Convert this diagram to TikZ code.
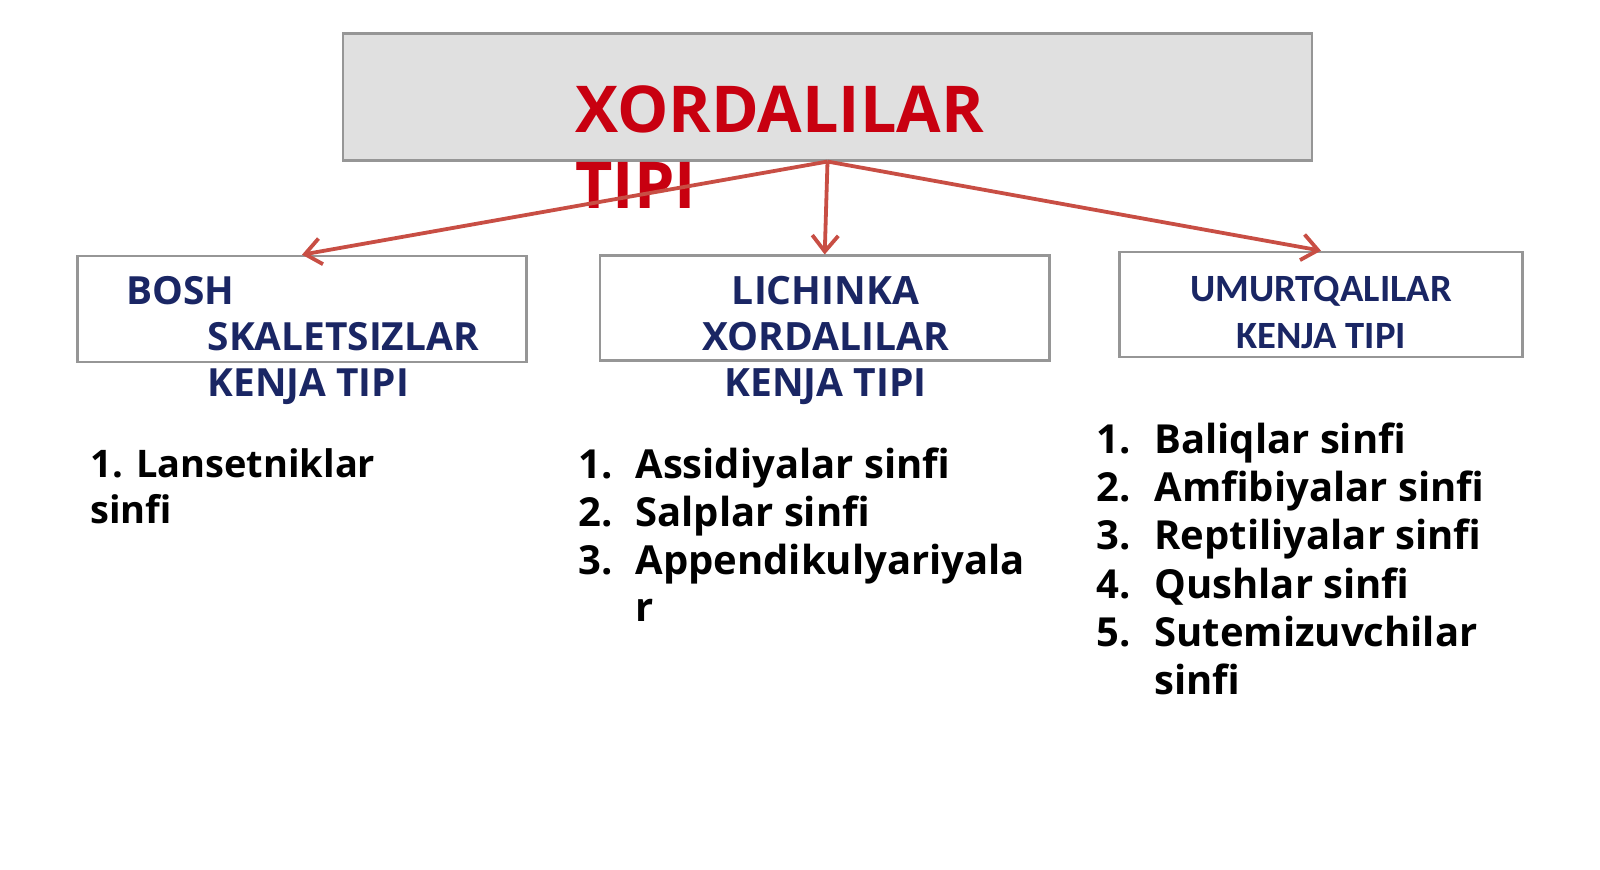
\documentclass[tikz,border=0pt]{standalone}
\usepackage{fontspec}
\setmainfont{Open Sans}
\newfontfamily\carl{Carlito}
\usetikzlibrary{arrows.meta}
\definecolor{topgray}{RGB}{224,224,224}
\definecolor{boxgray}{RGB}{150,150,150}
\definecolor{navy}{RGB}{26,38,100}
\definecolor{titlered}{RGB}{200,0,16}
\definecolor{arrred}{RGB}{200,78,68}
\begin{document}
\begin{tikzpicture}[x=0.5pt,y=-0.5pt]
\tikzset{
  box/.style={draw=boxgray, line width=1.3pt, inner sep=0pt},
  titletext/.style={text=titlered, font=\fontsize{32.3}{40}\selectfont\bfseries, inner sep=0pt, anchor=base west},
  hdr/.style={text=navy, font=\fontsize{19.4}{23}\selectfont\bfseries, inner sep=0pt, anchor=base west},
  hdrc/.style={text=navy, font=\fontsize{19.5}{23}\selectfont\bfseries, inner sep=0pt, anchor=base},
  hdrcarl/.style={text=navy, font=\fontsize{19.3}{23}\selectfont\carl\bfseries, inner sep=0pt, anchor=base},
  item/.style={text=black, font=\fontsize{20}{24}\selectfont\bfseries, inner sep=0pt, anchor=base west},
  itemsm/.style={text=black, font=\fontsize{19}{23}\selectfont\bfseries, inner sep=0pt, anchor=base west},
  arr/.style={draw=arrred, line width=1.9pt, -{Straight Barb[length=8pt,width=13pt,line width=1.9pt]}}
}
\useasboundingbox[fill=white] (0,0) rectangle (1600,870);

% boxes
\node[box, fill=topgray, minimum width=484.5pt, minimum height=63.25pt] (top) at (827.5,97) {};
\node[box, fill=white, minimum width=224.5pt, minimum height=53pt] (left) at (302,309) {};
\node[box, fill=white, minimum width=224.75pt, minimum height=52.5pt] (mid) at (824.7,308.3) {};
\node[box, fill=white, minimum width=201.5pt, minimum height=52.5pt] (right) at (1321,304.5) {};

% title
\node[titletext] (t1) at (575,132.7) {XORDALILAR};
\node[titletext] (t2) at (575,208.3) {TIPI};

% left header
\node[hdr] (l1) at (125.7,305) {BOSH};
\node[hdr] (l2) at (207.3,350.7) {SKALETSIZLAR};
\node[hdr] (l3) at (207.3,396.7) {KENJA TIPI};

% middle header
\node[hdrc] (m1) at (825.5,305) {LICHINKA};
\node[hdrc] (m2) at (825.5,350.7) {XORDALILAR};
\node[hdrc] (m3) at (825.5,396.7) {KENJA TIPI};

% right header
\node[hdrcarl] (r1) at (1321,301.7) {UMURTQALILAR};
\node[hdrcarl] (r2) at (1321,348.3) {KENJA TIPI};

% left list
\node[itemsm] (la1) at (90,477.3) {1. Lansetniklar};
\node[itemsm] (la2) at (90,523.3) {sinfi};

% middle list
\node[item] (mn1) at (578,478.3) {1.};
\node[item] (mi1) at (635,478.3) {Assidiyalar sinfi};
\node[item] (mn2) at (578,526.7) {2.};
\node[item] (mi2) at (635,526.7) {Salplar sinfi};
\node[item] (mn3) at (578,575) {3.};
\node[item] (mi3) at (635,575) {Appendikulyariyala};
\node[item] (mi3b) at (635,621.7) {r};

% right list
\node[item] (rn1) at (1096,453.3) {1.};
\node[item] (ri1) at (1154,453.3) {Baliqlar sinfi};
\node[item] (rn2) at (1096,501.7) {2.};
\node[item] (ri2) at (1154,501.7) {Amfibiyalar sinfi};
\node[item] (rn3) at (1096,550) {3.};
\node[item] (ri3) at (1154,550) {Reptiliyalar sinfi};
\node[item] (rn4) at (1096,598.4) {4.};
\node[item] (ri4) at (1154,598.4) {Qushlar sinfi};
\node[item] (rn5) at (1096,646.8) {5.};
\node[item] (ri5) at (1154,646.8) {Sutemizuvchilar};
\node[item] (ri5b) at (1154,694.5) {sinfi};

% arrows
\draw[arr] (top.south) -- (left.north);
\draw[arr] (top.south) -- (mid.north);
\draw[arr] (top.south) -- (right.north);
\end{tikzpicture}
\end{document}
